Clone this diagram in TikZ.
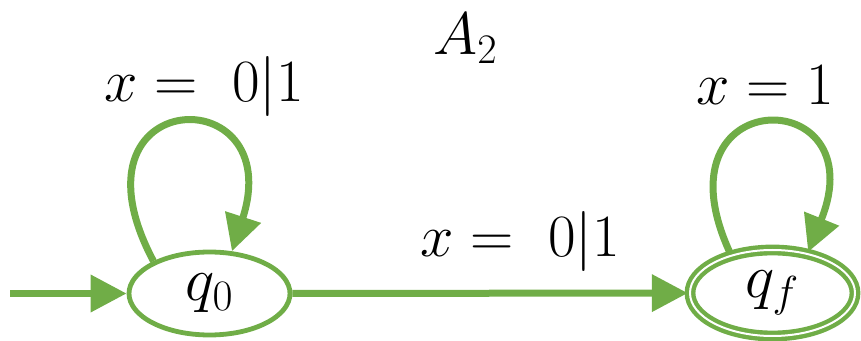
\RequirePackage{fix-cm}
\documentclass[tikz,border=0pt]{standalone}
\usetikzlibrary{arrows.meta,shapes.geometric}
\definecolor{fsmgreen}{HTML}{70AD47}
\tikzset{
  statebox/.style={ellipse, draw=fsmgreen, line width=2.4pt, fill=white, inner sep=0pt,
     minimum width=80.5pt, minimum height=41.5pt, font=\fontsize{31}{34}\selectfont},
  acceptbox/.style={statebox, line width=2.2pt, double=white, double distance=1pt, minimum width=82.5pt, minimum height=43pt},
  edge/.style={draw=fsmgreen, line width=3.5pt, -{Triangle[length=18pt,width=18pt]}},
  lab/.style={anchor=base, inner sep=0pt, font=\fontsize{30}{33}\selectfont}
}
\begin{document}
\begin{tikzpicture}[x=0.5pt,y=-0.5pt]
\useasboundingbox (0,0) rectangle (861,341);
\node[statebox] (q0) at (209.5,293.5) {$q_0$};
\node[acceptbox] (qf) at (772.5,293) {$q_f$};
\coordinate (init) at (10,293.5);
\draw[edge] (init) -- (q0);
\draw[edge] (q0) -- (qf);
\draw[edge] (q0.150) .. controls +(118:100pt) and +(72:92pt) .. (q0.62);
\draw[edge] (qf.137) .. controls +(115:95pt) and +(68:92pt) .. (qf.49);
\node[lab] (l0) at (204,102) {$x =\ 0|1$};
\node[lab] (l1) at (520,257) {$x =\ 0|1$};
\node[lab] (l2) at (765.5,105) {$x = 1$};
\node[lab, font=\fontsize{30}{33}\selectfont] (title) at (465.5,55) {$A_2$};
\end{tikzpicture}
\end{document}
